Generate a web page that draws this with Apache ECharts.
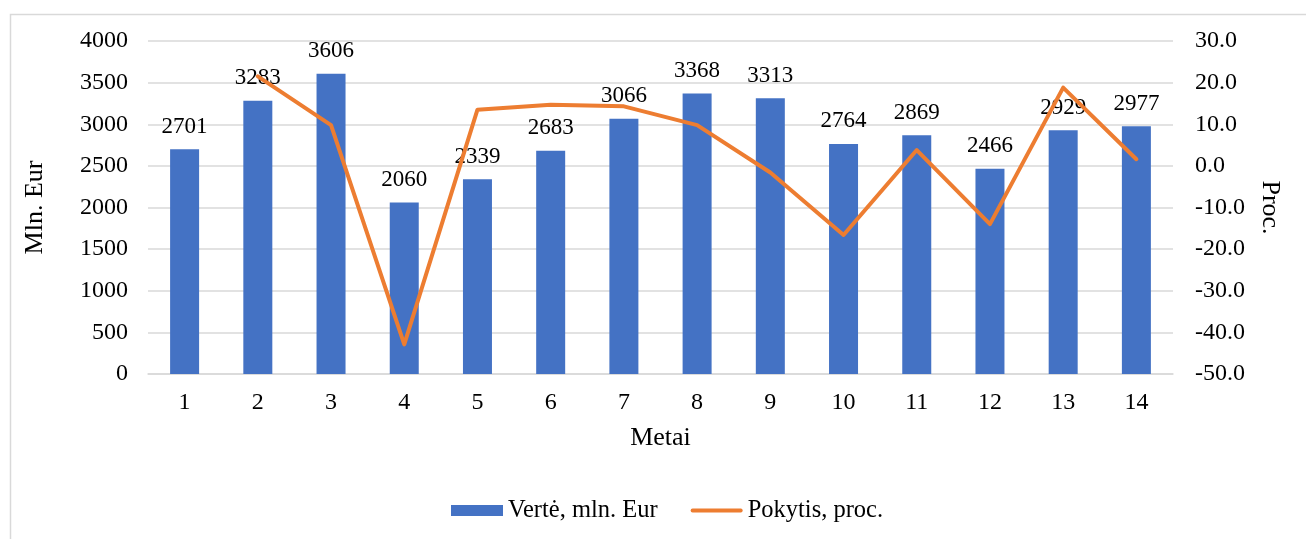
<!DOCTYPE html>
<html>
<head>
<meta charset="utf-8">
<script src="https://cdn.jsdelivr.net/npm/echarts@6/dist/echarts.min.js"></script>
<style>
html,body{margin:0;padding:0;background:#fff;}
#c{width:1306px;height:539px;}
</style>
</head>
<body>
<div id="c"></div>
<script>
var categories = ['1','2','3','4','5','6','7','8','9','10','11','12','13','14'];
var verte = [2701, 3283, 3606, 2060, 2339, 2683, 3066, 3368, 3313, 2764, 2869, 2466, 2929, 2977];
var pokytis = [null, 21.5, 9.8, -42.9, 13.5, 14.7, 14.3, 9.8, -1.6, -16.6, 3.8, -14.0, 18.8, 1.6];
var leftTicks = {min: 0, max: 4000, interval: 500};
var rightTicks = {min: -50, max: 30, interval: 10};

var FONT = "'Liberation Serif', 'Times New Roman', serif";
var FS_TICK = 24, FS_LABEL = 23, FS_NAME = 26, FS_LEGEND = 24.5;
var chart = echarts.init(document.getElementById('c'), null, {renderer: 'canvas'});
chart.setOption({
  animation: false,
  backgroundColor: '#fff',
  textStyle: {fontFamily: FONT, color: '#000'},
  graphic: [{
    type: 'rect', left: 8, top: 12, silent: true,
    shape: {width: 1320, height: 560},
    style: {fill: 'none', stroke: '#D9D9D9', lineWidth: 1.5}
  }],
  grid: {left: 148, right: 133, top: 41, bottom: 165, containLabel: false},
  legend: {
    left: 446, top: 493,
    itemWidth: 52, itemHeight: 11, itemGap: 33,
    textStyle: {fontFamily: FONT, fontSize: FS_LEGEND, color: '#000'},
    data: [
      {name: 'Vertė, mln. Eur', icon: 'rect'},
      {name: 'Pokytis, proc.', icon: 'path://M2,0 L53,0 A2,2 0 0 1 53,4 L2,4 A2,2 0 0 1 2,0 Z'}
    ]
  },
  xAxis: {
    type: 'category', data: categories,
    name: 'Metai', nameLocation: 'middle', nameGap: 51,
    nameTextStyle: {fontFamily: FONT, fontSize: FS_NAME, color: '#000'},
    axisLine: {show: true, lineStyle: {color: '#D9D9D9', width: 1.5}},
    axisTick: {show: false},
    axisLabel: {fontFamily: FONT, fontSize: FS_TICK, color: '#000', margin: 17}
  },
  yAxis: [{
    type: 'value', position: 'left',
    min: leftTicks.min, max: leftTicks.max, interval: leftTicks.interval,
    name: 'Mln. Eur', nameLocation: 'middle', nameGap: 100, nameRotate: 90,
    nameTextStyle: {fontFamily: FONT, fontSize: FS_NAME, color: '#000'},
    axisLine: {show: false}, axisTick: {show: false},
    axisLabel: {fontFamily: FONT, fontSize: FS_TICK, color: '#000', margin: 20,
      formatter: function (v) { return String(v); }},
    splitLine: {lineStyle: {color: '#D9D9D9', width: 1.5}}
  }, {
    type: 'value', position: 'right',
    min: rightTicks.min, max: rightTicks.max, interval: rightTicks.interval,
    name: 'Proc.', nameLocation: 'middle', nameGap: 84, nameRotate: -90,
    nameTextStyle: {fontFamily: FONT, fontSize: FS_NAME, color: '#000'},
    axisLine: {show: false}, axisTick: {show: false},
    axisLabel: {fontFamily: FONT, fontSize: FS_TICK, color: '#000', margin: 22,
      formatter: function (v) { return v.toFixed(1); }},
    splitLine: {show: false}
  }],
  series: [{
    name: 'Vertė, mln. Eur', type: 'bar', yAxisIndex: 0,
    data: verte, barWidth: 29,
    itemStyle: {color: '#4472C4'},
    label: {show: true, position: 'top', distance: 11,
      fontFamily: FONT, fontSize: FS_LABEL, color: '#000'}
  }, {
    name: 'Pokytis, proc.', type: 'line', yAxisIndex: 1,
    data: pokytis, symbol: 'none', connectNulls: false,
    lineStyle: {color: '#ED7D31', width: 4, cap: 'round', join: 'round'},
    itemStyle: {color: '#ED7D31'},
    z: 5
  }]
});
</script>
</body>
</html>
